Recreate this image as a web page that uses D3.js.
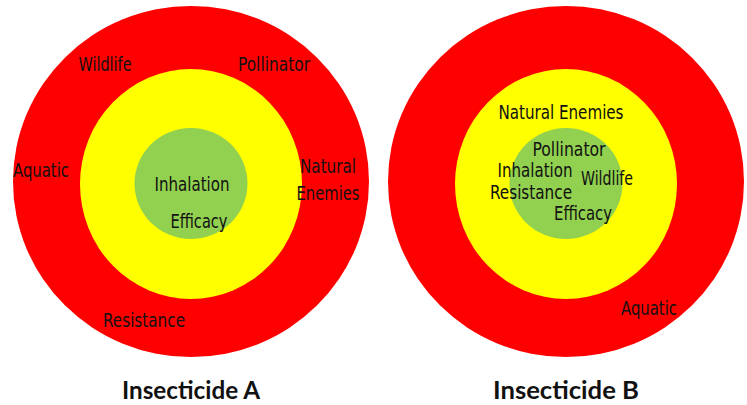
<!DOCTYPE html>
<html>
<head>
<meta charset="utf-8">
<script src="https://cdn.jsdelivr.net/npm/d3@7"></script>
<style>
  html, body { margin: 0; padding: 0; background: #fff; }
  svg { display: block; }
</style>
</head>
<body>
<svg id="chart" width="747" height="405"></svg>
<script>
// ---- Data ----
const insecticides = ["Insecticide A", "Insecticide B"];
const ringLevels = ["Low", "Medium", "High"];          // inner (green) -> outer (red)
const ringColors = ["#92D050", "#FFFF00", "#FF0000"];

// labels for each insecticide, with the risk ring they fall into
const labelsA = ["Wildlife", "Pollinator", "Aquatic", "Natural\nEnemies", "Inhalation", "Efficacy", "Resistance"];
const ringsA  = ["High", "High", "High", "High", "Low", "Low", "High"];
const labelsB = ["Natural Enemies", "Pollinator", "Inhalation", "Wildlife", "Resistance", "Efficacy", "Aquatic"];
const ringsB  = ["Medium", "Low", "Low", "Low", "Low", "Low", "High"];

// ---- Layout (annotation placement, relative to target centre) ----
const placeA = [[-86, -111, 53], [83, -111, 72], [-150, -5, 56], [137, -9, 56, 63], [1, 9, 75], [8, 46, 57], [-47, 145, 82]];
const placeB = [[-5, -63, 125], [3, -26, 73], [-31, -5, 75], [41, 3, 52], [-35, 17, 82], [17, 38, 58], [83, 133, 56]];

const svg = d3.select("#chart");
const centersX = d3.scalePoint().domain(insecticides).range([191, 566]);
const cyOuter = 181.5;
const rxScale = d3.scaleOrdinal().domain(ringLevels).range([56.5, 111, 178]);
const ryScale = d3.scaleOrdinal().domain(ringLevels).range([55.5, 115, 175.5]);
const cyScale = d3.scaleOrdinal().domain(ringLevels).range([183.5, 184, 181.5]);
const color = d3.scaleOrdinal().domain(ringLevels).range(ringColors);

const sets = [
  { name: insecticides[0], labels: labelsA, rings: ringsA, place: placeA },
  { name: insecticides[1], labels: labelsB, rings: ringsB, place: placeB }
];

const labelFont = "'Liberation Sans Narrow', 'DejaVu Sans Condensed', 'Liberation Sans', sans-serif";

sets.forEach(s => {
  const cx = centersX(s.name);
  const g = svg.append("g");
  g.selectAll("ellipse")
    .data(ringLevels.slice().reverse())
    .join("ellipse")
    .attr("cx", cx)
    .attr("cy", d => cyScale(d))
    .attr("rx", d => rxScale(d))
    .attr("ry", d => ryScale(d))
    .attr("fill", d => color(d));

  s.labels.forEach((lab, i) => {
    const p = s.place[i];
    const lines = lab.split("\n");
    lines.forEach((ln, j) => {
      const w = j === 0 ? p[2] : (p[3] || p[2]);
      g.append("text")
        .attr("x", cx + p[0])
        .attr("y", cyOuter + p[1] + j * 27)
        .attr("text-anchor", "middle")
        .attr("font-family", labelFont)
        .attr("font-size", 20)
        .attr("fill", "#111")
        .attr("textLength", w)
        .attr("lengthAdjust", "spacingAndGlyphs")
        .text(ln);
    });
  });

  g.append("text")
    .attr("x", cx)
    .attr("y", 399)
    .attr("text-anchor", "middle")
    .attr("font-family", "Lato, 'Open Sans', sans-serif")
    .attr("font-weight", 700)
    .attr("font-size", 24)
    .attr("fill", "#111")
    .attr("textLength", s.name.endsWith("A") ? 138 : 146)
    .attr("lengthAdjust", "spacingAndGlyphs")
    .text(s.name);
});
</script>
</body>
</html>
